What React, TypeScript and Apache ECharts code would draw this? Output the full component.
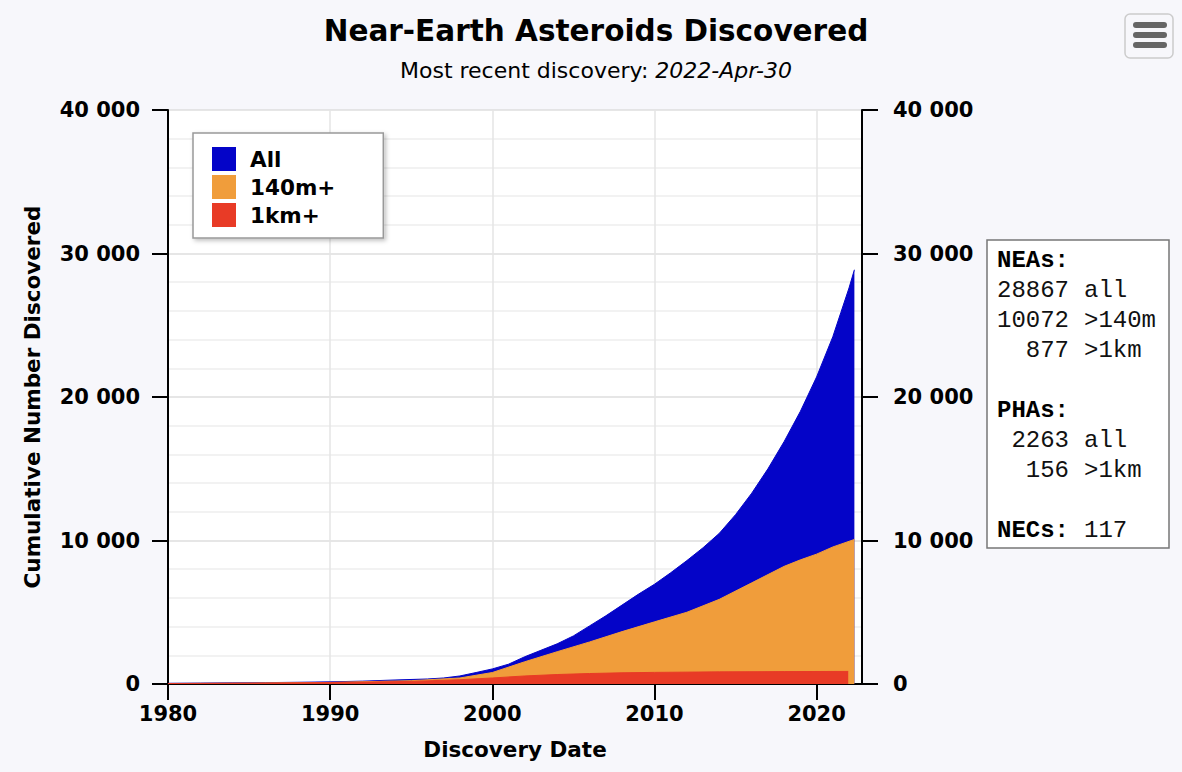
import React, { useEffect, useRef } from "react";
import * as echarts from "echarts";

// ---- Data (cumulative counts, decimal years) ----
const allYears = [1980, 1982, 1984, 1986, 1988, 1990, 1992, 1994, 1996, 1997, 1998, 1999, 2000, 2001, 2002, 2003, 2004, 2005, 2006, 2007, 2008, 2009, 2010, 2011, 2012, 2013, 2014, 2015, 2016, 2017, 2018, 2019, 2020, 2021, 2021.5, 2022, 2022.33];
const allCounts = [50, 65, 80, 95, 120, 150, 200, 280, 350, 420, 560, 800, 1050, 1380, 1900, 2350, 2800, 3350, 4050, 4750, 5500, 6250, 6950, 7750, 8600, 9500, 10500, 11800, 13300, 15000, 16900, 19000, 21400, 24200, 25900, 27600, 28867];

const m140Years = [1980, 1985, 1990, 1995, 1998, 2000, 2002, 2004, 2006, 2008, 2010, 2012, 2014, 2016, 2018, 2019, 2020, 2021, 2022.33];
const m140Counts = [35, 60, 110, 230, 420, 800, 1550, 2250, 2930, 3650, 4330, 5000, 5900, 7050, 8200, 8650, 9050, 9550, 10072];

const km1Years = [1980, 1985, 1990, 1995, 1998, 2000, 2002, 2004, 2006, 2008, 2010, 2014, 2018, 2021.95];
const km1Counts = [30, 55, 100, 180, 300, 420, 560, 660, 730, 780, 810, 845, 865, 877];

const seriesNames = ["All", "140m+", "1km+"];
const seriesColors = ["#0404c8", "#f09d3b", "#e83b26"];
const xTicks = [1980, 1990, 2000, 2010, 2020];

const infoHeads = ["NEAs:", "", "", "", "PHAs:", "", "", "NECs:"];
const infoNumbers = ["", "28867", "10072", "877", "", "2263", "156", ""];
const infoWords = ["", "all", ">140m", ">1km", "", "all", ">1km", "117"];

const FONT = "'DejaVu Sans', Verdana, sans-serif";
const MONO = "'Liberation Mono', 'Courier New', monospace";

const zip = (xs: number[], ys: number[]) => xs.map((x, i) => [x, ys[i]]);
const fmtThousands = (v: number) => String(v).replace(/\B(?=(\d{3})+(?!\d))/g, " ");

export default function App() {
  const ref = useRef<HTMLDivElement>(null);
  useEffect(() => {
    document.body.style.margin = "0";
    const chart = echarts.init(ref.current!, null, { renderer: "svg" });
    const datasets = [zip(allYears, allCounts), zip(m140Years, m140Counts), zip(km1Years, km1Counts)];

    const lineIndex = [0, 1, 2, 3, 5, 6, 7, 9];
    const infoLineY = (i: number) => 260 + lineIndex[i] * 30;
    const infoGraphics: any[] = [
      {
        type: "rect",
        shape: { x: 987, y: 240, width: 182, height: 308 },
        style: { fill: "#ffffff", stroke: "#777777", lineWidth: 1.5 },
      },
    ];
    infoHeads.forEach((h, i) => {
      if (h) infoGraphics.push({ type: "text", x: 997, y: infoLineY(i), style: { text: h, font: `bold 24px ${MONO}`, fill: "#000", textVerticalAlign: "middle" } });
    });
    infoNumbers.forEach((n, i) => {
      if (n) infoGraphics.push({ type: "text", x: 1069, y: infoLineY(i), style: { text: n, font: `24px ${MONO}`, fill: "#111", textAlign: "right", textVerticalAlign: "middle" } });
    });
    infoWords.forEach((w, i) => {
      if (w) infoGraphics.push({ type: "text", x: 1084, y: infoLineY(i), style: { text: w, font: `24px ${MONO}`, fill: "#111", textVerticalAlign: "middle" } });
    });

    const menuGraphics: any[] = [
      { type: "rect", shape: { x: 1125, y: 14, width: 48, height: 44, r: 5 }, style: { fill: "#f7f7fb", stroke: "#cccccc", lineWidth: 1.5 } },
      ...[25, 35, 45].map((y) => ({ type: "rect", shape: { x: 1133, y: y - 3, width: 34, height: 6, r: 3 }, style: { fill: "#666666" } })),
    ];

    const labelStyle = { fontFamily: FONT, fontWeight: "bold", fontSize: 21, color: "#000" };
    const yAxisCommon = {
      type: "value",
      min: 0,
      max: 40000,
      interval: 10000,
      axisLine: { show: true, lineStyle: { color: "#000", width: 2 } },
      axisTick: { show: true, inside: false, length: 16, lineStyle: { color: "#000", width: 2 } },
    };

    chart.setOption({
      animation: false,
      backgroundColor: "#f7f7fb",
      title: {
        text: "Near-Earth Asteroids Discovered",
        subtext: "Most recent discovery: {i|2022-Apr-30}",
        left: 591,
        top: 11,
        textAlign: "center",
        itemGap: 13,
        textStyle: { fontFamily: FONT, fontWeight: "bold", fontSize: 29.5, color: "#000" },
        subtextStyle: {
          fontFamily: FONT,
          fontSize: 22,
          color: "#000",
          rich: { i: { fontFamily: FONT, fontSize: 22, fontStyle: "italic", color: "#000" } },
        },
      },
      legend: {
        data: seriesNames,
        orient: "vertical",
        left: 193,
        top: 133,
        icon: "rect",
        itemWidth: 24,
        itemHeight: 24,
        itemGap: 4,
        padding: [14, 48, 11, 19],
        backgroundColor: "#ffffff",
        borderColor: "#999999",
        borderWidth: 1.5,
        shadowColor: "rgba(0,0,0,0.25)",
        shadowBlur: 4,
        shadowOffsetX: 2,
        shadowOffsetY: 2,
        selectedMode: false,
        textStyle: { fontFamily: FONT, fontWeight: "bold", fontSize: 21.5, color: "#000", padding: [0, 0, 0, 9] },
      },
      grid: {
        left: 168,
        right: 320,
        top: 110,
        bottom: 88,
        show: true,
        backgroundColor: "#ffffff",
        borderWidth: 0,
      },
      xAxis: {
        type: "value",
        min: 1980,
        max: 2022.8,
        interval: 10,
        name: "Discovery Date",
        nameLocation: "middle",
        nameGap: 54,
        nameTextStyle: { fontFamily: FONT, fontWeight: "bold", fontSize: 21.5, color: "#000" },
        axisLine: { show: true, onZero: false, lineStyle: { color: "#000", width: 2 } },
        axisTick: { show: true, inside: false, length: 16, lineStyle: { color: "#000", width: 2 }, customValues: xTicks },
        axisLabel: {
          ...labelStyle,
          customValues: xTicks,
          formatter: (v: number) => String(v),
          margin: 19,
        },
        splitLine: { show: true, lineStyle: { color: "#e4e4e4", width: 1.5 } },
      },
      yAxis: [
        {
          ...yAxisCommon,
          position: "left",
          name: "Cumulative Number Discovered",
          nameLocation: "middle",
          nameGap: 125,
          nameTextStyle: { fontFamily: FONT, fontWeight: "bold", fontSize: 21.5, color: "#000" },
          axisLabel: { ...labelStyle, formatter: (v: number) => fmtThousands(v), margin: 28 },
          splitLine: { show: true, lineStyle: { color: "#dedede", width: 1.5 } },
          minorTick: { show: false, splitNumber: 5 },
          minorSplitLine: { show: true, lineStyle: { color: "#eeeeee", width: 1.5 } },
        },
        {
          ...yAxisCommon,
          position: "right",
          axisLabel: { ...labelStyle, formatter: (v: number) => fmtThousands(v), margin: 31 },
          splitLine: { show: false },
        },
      ],
      series: seriesNames.map((name, i) => ({
        name,
        type: "line",
        data: datasets[i],
        yAxisIndex: 0,
        showSymbol: false,
        symbol: "none",
        color: seriesColors[i],
        lineStyle: { color: seriesColors[i], width: 1 },
        areaStyle: { color: seriesColors[i], opacity: 1 },
        z: 2 + i,
      })),
      graphic: [...infoGraphics, ...menuGraphics],
    });
    return () => chart.dispose();
  }, []);

  return <div ref={ref} style={{ position: "absolute", left: 0, top: 0, width: 1182, height: 772 }} />;
}
